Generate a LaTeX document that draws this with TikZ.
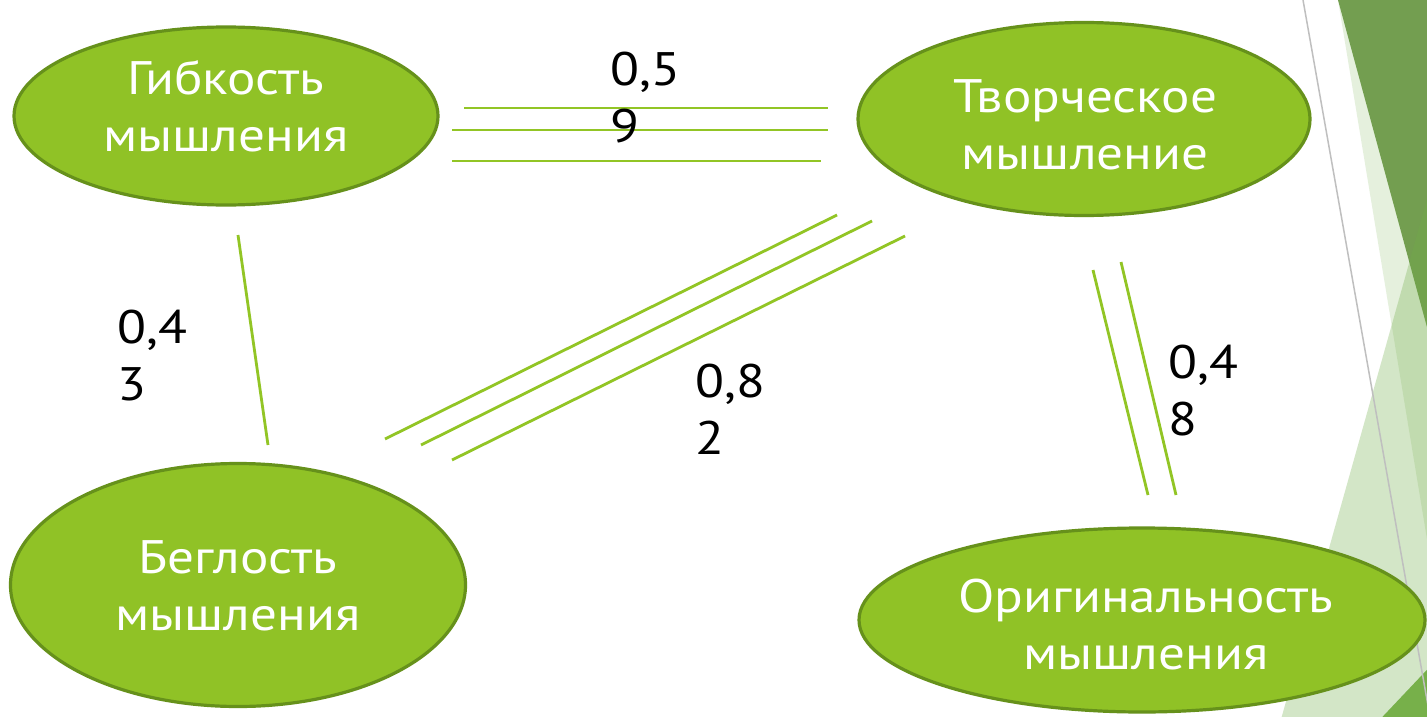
\documentclass[tikz,border=0pt]{standalone}
\usepackage{fontspec}
\setmainfont{PT Sans}[FakeStretch=1.13]
\usetikzlibrary{shapes.geometric}
\definecolor{facetgreen}{HTML}{90C226}
\definecolor{ellborder}{HTML}{66911B}
\definecolor{linegreen}{HTML}{92C525}
\definecolor{darkfacet}{HTML}{739E50}
\definecolor{midfacet}{HTML}{70AD47}
\definecolor{cornerfacet}{HTML}{77B04A}
\definecolor{facetgray}{HTML}{BFBFBF}
\begin{document}
\begin{tikzpicture}[x=1pt,y=-1pt,
  ell/.style={ellipse, fill=facetgreen, draw=ellborder, line width=3.2pt, inner sep=0pt},
  elltext/.style={anchor=base, text=white, inner sep=0pt, font=\fontsize{47}{57}\selectfont},
  numlabel/.style={anchor=base west, text=black, inner sep=0pt, font=\fontsize{47}{57}\selectfont},
  link/.style={draw=linegreen, line width=2.8pt}
]
\useasboundingbox (0,0) rectangle (1427,717);
% background of the slide theme
\begin{scope}
  \clip (0,0) rectangle (1427,717);
  \fill[white] (0,0) rectangle (1427,717);
  \fill[midfacet, fill opacity=0.18] (1338,0) -- (1440,0) -- (1440,618) -- cycle;
  \fill[darkfacet] (1338,0) -- (1440,0) -- (1440,375) -- cycle;
  \fill[midfacet, fill opacity=0.30] (1440,153) -- (1278,730) -- (1440,730) -- cycle;
  \fill[cornerfacet] (1440,656) -- (1370,730) -- (1440,730) -- cycle;
  \draw[facetgray, line width=1.5pt] (1303,0) -- (1430,717);
\end{scope}

% connector end points
\coordinate (ta1) at (464,108); \coordinate (tb1) at (828,108);
\coordinate (ta2) at (452,130); \coordinate (tb2) at (828,130);
\coordinate (ta3) at (452,161); \coordinate (tb3) at (821,161);
\coordinate (da1) at (385,439); \coordinate (db1) at (837,215);
\coordinate (da2) at (421,445); \coordinate (db2) at (872,221);
\coordinate (da3) at (452,460); \coordinate (db3) at (905,236);
\coordinate (la) at (238,235); \coordinate (lb) at (268,445);
\coordinate (ra1) at (1093,270); \coordinate (rb1) at (1148,495);
\coordinate (ra2) at (1121,262); \coordinate (rb2) at (1176,495);

\draw[link] (ta1) -- (tb1);
\draw[link] (ta2) -- (tb2);
\draw[link] (ta3) -- (tb3);
\draw[link] (da1) -- (db1);
\draw[link] (da2) -- (db2);
\draw[link] (da3) -- (db3);
\draw[link] (la) -- (lb);
\draw[link] (ra1) -- (rb1);
\draw[link] (ra2) -- (rb2);

% ellipses
\node[ell, minimum width=424pt, minimum height=178pt] (gib) at (226,116) {};
\node[ell, minimum width=452pt, minimum height=193pt] (tvor) at (1084,119) {};
\node[ell, minimum width=455pt, minimum height=243pt] (beg) at (238,585) {};
\node[ell, minimum width=566pt, minimum height=184pt] (orig) at (1142,620) {};

% ellipse texts
\node[elltext] (gibt) at (226,95) {\begin{tabular}[t]{@{}c@{}}Гибкость\\мышления\end{tabular}};
\node[elltext] (tvort) at (1085,112) {\begin{tabular}[t]{@{}c@{}}Творческое\\мышление\end{tabular}};
\node[elltext] (begt) at (238,573) {\begin{tabular}[t]{@{}c@{}}Беглость\\мышления\end{tabular}};
\node[elltext] (origt) at (1146,612) {\begin{tabular}[t]{@{}c@{}}Оригинальность\\мышления\end{tabular}};

% coefficient labels
\node[numlabel] (n59) at (610,85) {\begin{tabular}[t]{@{}l@{}}0,5\\9\end{tabular}};
\node[numlabel] (n43) at (117,343) {\begin{tabular}[t]{@{}l@{}}0,4\\3\end{tabular}};
\node[numlabel] (n82) at (695,397) {\begin{tabular}[t]{@{}l@{}}0,8\\2\end{tabular}};
\node[numlabel] (n48) at (1168,378) {\begin{tabular}[t]{@{}l@{}}0,4\\8\end{tabular}};
\end{tikzpicture}
\end{document}
